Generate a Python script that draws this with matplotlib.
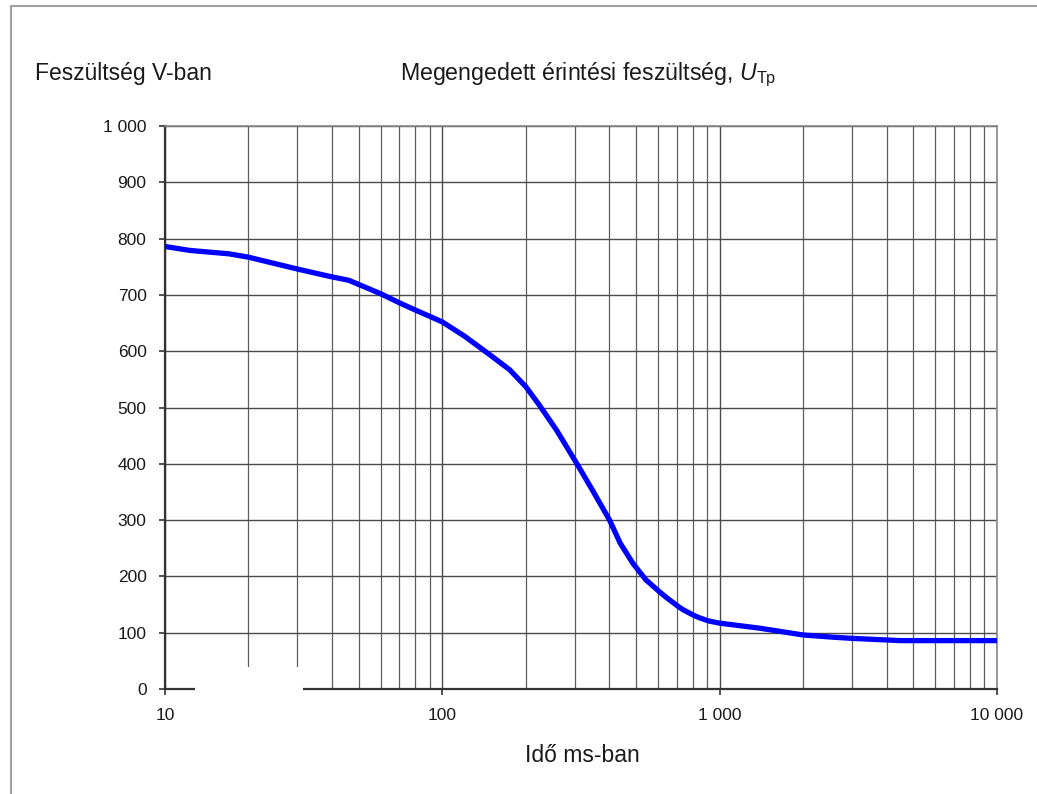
import matplotlib
matplotlib.use("Agg")
import matplotlib.pyplot as plt
from matplotlib.lines import Line2D
from matplotlib.patches import Rectangle
from matplotlib.ticker import FixedLocator, FixedFormatter, LogLocator, NullFormatter

plt.rcParams['font.family'] = ['Liberation Sans', 'DejaVu Sans']
plt.rcParams['mathtext.fontset'] = 'custom'
plt.rcParams['mathtext.rm'] = 'Liberation Sans'
plt.rcParams['mathtext.it'] = 'Liberation Sans:italic'

# time in ms, voltage in V
time_ms = [10, 12.3, 17, 20, 30, 40, 46, 60, 70, 80, 90, 100, 120, 149, 175, 200,
           224, 258, 305, 348, 401, 438, 487, 542, 609, 645, 703, 737, 806,
           841, 911, 1000, 1398, 2000, 2577, 3000, 4469, 10000]
voltage = [786, 779, 773, 767, 746, 732, 726, 702, 686, 673, 662, 652, 627, 593, 567, 537,
           504, 460, 401, 353, 300, 259, 223, 194, 172, 162, 148, 141, 131,
           127, 121, 117, 108, 96, 92, 90, 86, 86]

x_ticks = [10, 100, 1000, 10000]
x_tick_labels = ["10", "100", "1 000", "10 000"]
y_ticks = [0, 100, 200, 300, 400, 500, 600, 700, 800, 900, 1000]
y_tick_labels = ["0", "100", "200", "300", "400", "500", "600", "700", "800", "900", "1 000"]

fig = plt.figure(figsize=(10.37, 7.94), dpi=100)
ax = fig.add_axes([0.1591, 0.1322, 0.8023, 0.7091])

ax.plot(time_ms, voltage, color='#0000ff', lw=3.8, solid_capstyle='butt',
        solid_joinstyle='round', zorder=4)

ax.set_xscale('log')
ax.set_xlim(10, 10000)
ax.set_ylim(0, 1000)

ax.xaxis.set_major_locator(FixedLocator(x_ticks))
ax.xaxis.set_major_formatter(FixedFormatter(x_tick_labels))
ax.xaxis.set_minor_locator(LogLocator(base=10, subs=[2, 3, 4, 5, 6, 7, 8, 9]))
ax.xaxis.set_minor_formatter(NullFormatter())
ax.yaxis.set_major_locator(FixedLocator(y_ticks))
ax.yaxis.set_major_formatter(FixedFormatter(y_tick_labels))

ax.grid(True, which='major', axis='both', color='#4a4a4a', lw=1.0, zorder=1)
ax.grid(True, which='minor', axis='x', color='#5e5e5e', lw=0.9, zorder=1)
ax.set_axisbelow(True)

ax.tick_params(axis='both', which='major', direction='out', length=4.3, width=1.2,
               color='#333333', labelsize=12.5, labelcolor='#1a1a1a')
ax.tick_params(axis='x', which='major', pad=9)
ax.tick_params(axis='y', which='major', pad=9)
ax.tick_params(axis='x', which='minor', length=0)

for side in ['left', 'bottom']:
    ax.spines[side].set_color('#333333')
    ax.spines[side].set_linewidth(1.6)
for side in ['top', 'right']:
    ax.spines[side].set_color('#888888')
    ax.spines[side].set_linewidth(1.2)

# white patch that hides the lower-left part of the grid in the original
ax.add_patch(Rectangle((12.8, -12), 31.4 - 12.8, 39.6 + 12, facecolor='white',
                       edgecolor='none', clip_on=False, zorder=3))

fig.text(35 / 1037, 1 - 80 / 794, "Feszültség V-ban", fontsize=16.5, color='#1a1a1a',
         ha='left', va='baseline')
fig.text(400 / 1037, 1 - 80 / 794, r"Megengedett érintési feszültség, $\mathit{U}_{\mathrm{Tp}}$",
         fontsize=16.7, color='#1a1a1a', ha='left', va='baseline')
fig.text(582 / 1037, 1 - 762 / 794, "Idő ms-ban", fontsize=16.5, color='#1a1a1a',
         ha='center', va='baseline')

# page frame on the left and top
fig.add_artist(Line2D([11 / 1037, 11 / 1037], [0, 1 - 6 / 794], color='#a0a0a0', lw=1.5))
fig.add_artist(Line2D([11 / 1037, 1], [1 - 6 / 794, 1 - 6 / 794], color='#a0a0a0', lw=1.5))

fig.savefig("out.png", dpi=100, facecolor='white')
